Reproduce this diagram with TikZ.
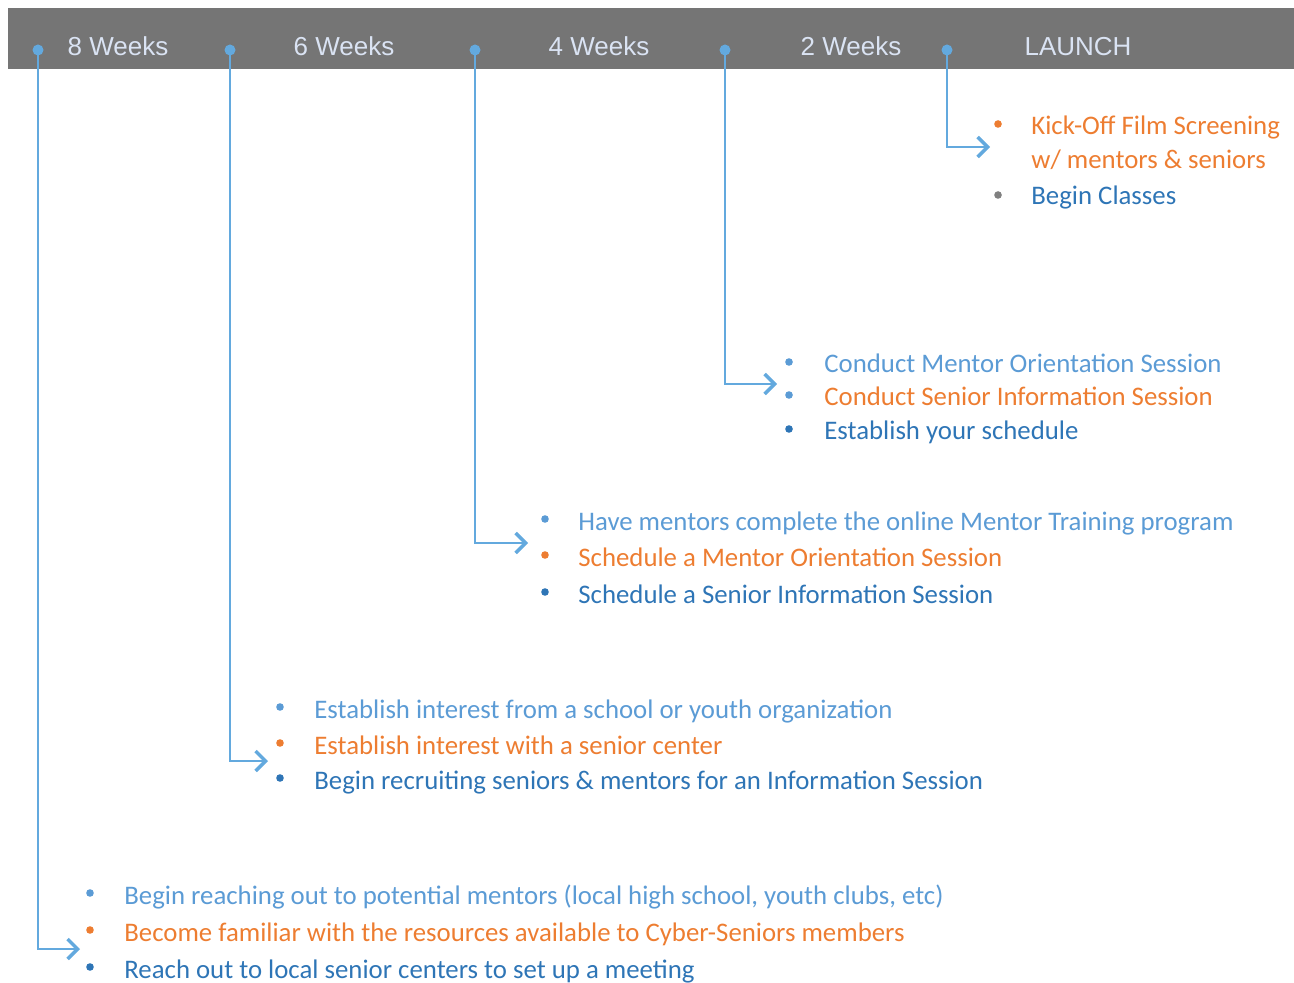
\documentclass[tikz,border=0pt]{standalone}
\usepackage{fontspec}
\setmainfont{Carlito}
\newfontfamily\barfont{Liberation Sans}
\usetikzlibrary{arrows.meta}
\definecolor{bargray}{RGB}{117,117,117}
\definecolor{bartext}{RGB}{218,227,243}
\definecolor{linkblue}{RGB}{99,169,222}
\definecolor{lblue}{RGB}{91,155,213}
\definecolor{orng}{RGB}{237,125,49}
\definecolor{dblue}{RGB}{46,117,182}
\definecolor{bgray}{RGB}{128,128,128}

\begin{document}
\begin{tikzpicture}[
    x=0.5pt, y=-0.5pt,
    font=\fontsize{13.4}{16}\selectfont,
    week/.style={text=bartext, font=\barfont\fontsize{13}{15}\selectfont, anchor=base, inner sep=0pt},
    dot/.style={circle, fill=linkblue, inner sep=0pt, minimum size=5.5pt},
    item/.style={anchor=base west, inner sep=0pt},
    bul/.style={circle, inner sep=0pt, minimum size=3.8pt},
    link/.style={draw=linkblue, line width=1.3pt, -{Straight Barb[length=5pt, width=10pt, line width=1.7pt]}}
]
    \useasboundingbox (0,0) rectangle (1294,983);

    % timeline bar
    \fill[bargray] (8,8) rectangle (1294,69);
    \node[week] (w8) at (118,56) {8 Weeks};
    \node[week] (w6) at (344,56) {6 Weeks};
    \node[week] (w4) at (599,56) {4 Weeks};
    \node[week] (w2) at (851,56) {2 Weeks};
    \node[week] (wl) at (1078,56) {LAUNCH};

    \node[dot] (d8) at (38,50) {};
    \node[dot] (d6) at (230,50) {};
    \node[dot] (d4) at (475,50) {};
    \node[dot] (d2) at (725,50) {};
    \node[dot] (dl) at (947,50) {};

    % launch
    \node[bul, fill=orng] (bla) at (998,124) {};
    \node[item, text=orng] (tla) at (1031,135) {Kick-Off Film Screening};
    \node[item, text=orng] (tlb) at (1031,169) {w/ mentors \& seniors};
    \node[bul, fill=bgray] (blc) at (998,195) {};
    \node[item, text=dblue] (tlc) at (1031,205) {Begin Classes};

    % 2 weeks
    \node[bul, fill=lblue] (b2a) at (789,362) {};
    \node[item, text=lblue] (t2a) at (824,373) {Conduct Mentor Orientation Session};
    \node[bul, fill=lblue] (b2b) at (789,395) {};
    \node[item, text=orng] (t2b) at (824,406) {Conduct Senior Information Session};
    \node[bul, fill=dblue] (b2c) at (789,429) {};
    \node[item, text=dblue] (t2c) at (824,440) {Establish your schedule};

    % 4 weeks
    \node[bul, fill=lblue] (b4a) at (545,519) {};
    \node[item, text=lblue] (t4a) at (578,530) {Have mentors complete the online Mentor Training program};
    \node[bul, fill=orng] (b4b) at (545,555) {};
    \node[item, text=orng] (t4b) at (578,566) {Schedule a Mentor Orientation Session};
    \node[bul, fill=dblue] (b4c) at (545,592) {};
    \node[item, text=dblue] (t4c) at (578,603) {Schedule a Senior Information Session};

    % 6 weeks
    \node[bul, fill=lblue] (b6a) at (280,707) {};
    \node[item, text=lblue] (t6a) at (314,718) {Establish interest from a school or youth organization};
    \node[bul, fill=orng] (b6b) at (280,743) {};
    \node[item, text=orng] (t6b) at (314,754) {Establish interest with a senior center};
    \node[bul, fill=dblue] (b6c) at (280,778) {};
    \node[item, text=dblue] (t6c) at (314,789) {Begin recruiting seniors \& mentors for an Information Session};

    % 8 weeks
    \node[bul, fill=lblue] (b8a) at (90,893) {};
    \node[item, text=lblue] (t8a) at (124,904) {Begin reaching out to potential mentors (local high school, youth clubs, etc)};
    \node[bul, fill=orng] (b8b) at (90,930) {};
    \node[item, text=orng] (t8b) at (124,941) {Become familiar with the resources available to Cyber-Seniors members};
    \node[bul, fill=dblue] (b8c) at (90,967) {};
    \node[item, text=dblue] (t8c) at (124,978) {Reach out to local senior centers to set up a meeting};

    % arrow ends
    \coordinate (a8) at (80,949);
    \coordinate (a6) at (268,761);
    \coordinate (a4) at (528,543);
    \coordinate (a2) at (777,384);
    \coordinate (al) at (990,147);

    \draw[link] (d8.center) |- (a8);
    \draw[link] (d6.center) |- (a6);
    \draw[link] (d4.center) |- (a4);
    \draw[link] (d2.center) |- (a2);
    \draw[link] (dl.center) |- (al);
\end{tikzpicture}
\end{document}
